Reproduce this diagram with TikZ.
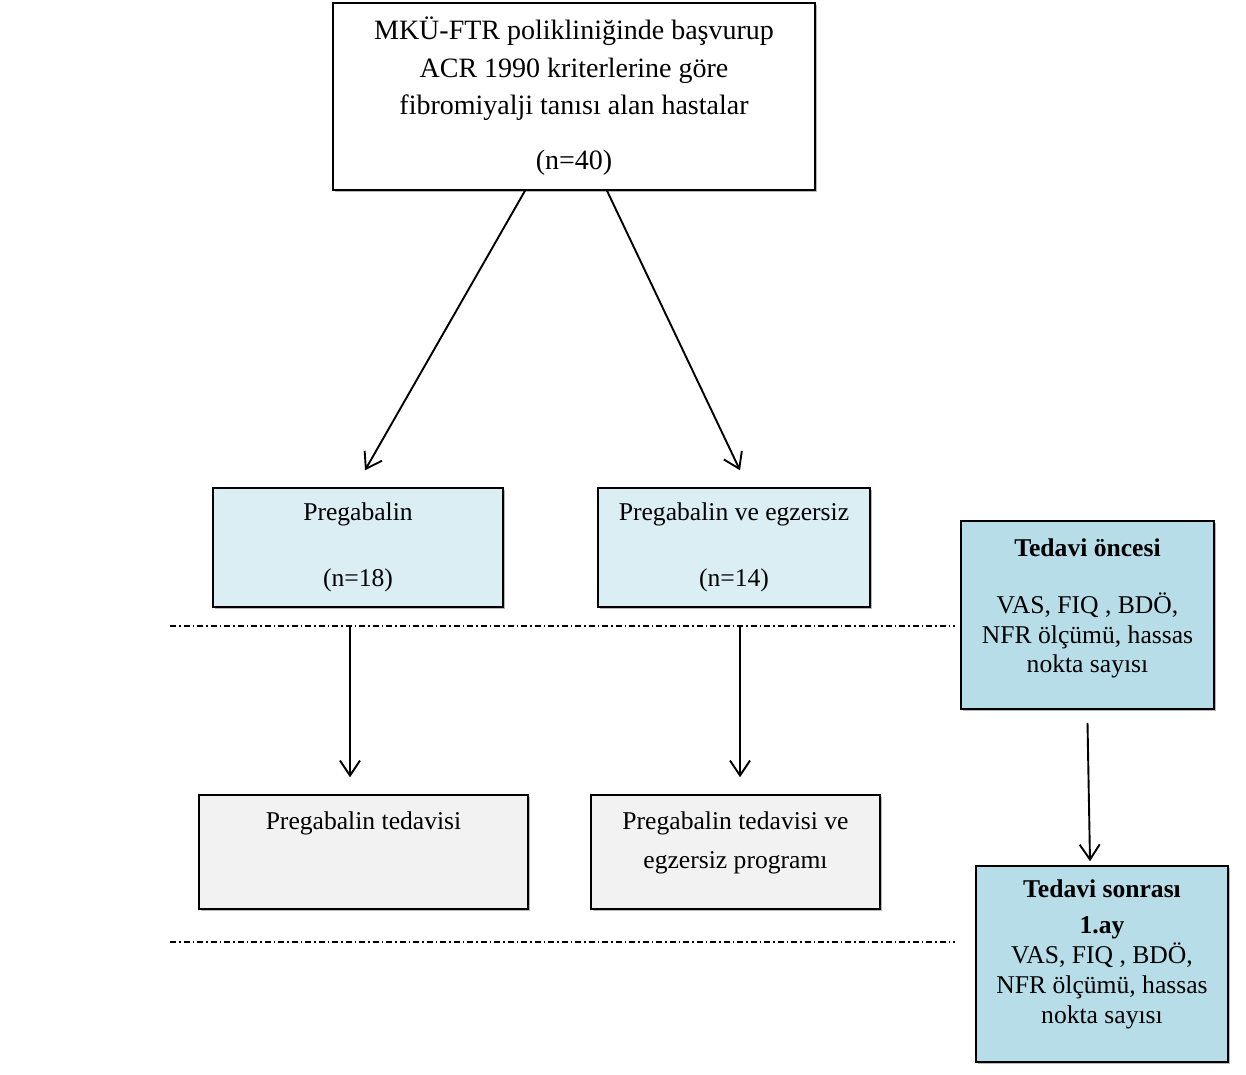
\documentclass[tikz,border=0pt]{standalone}
\usepackage{fontspec}
\setmainfont{Liberation Serif}
\usetikzlibrary{positioning,arrows.meta,shadows}

\definecolor{paleblue}{HTML}{DAEEF3}
\definecolor{midblue}{HTML}{B6DDE8}
\definecolor{palegrey}{HTML}{F2F2F2}

\tikzset{
  box/.style={draw, line width=1.5pt, inner sep=0pt,
    drop shadow={shadow xshift=1.5pt, shadow yshift=-1.5pt, fill=gray!70, opacity=0.8}},
  txt/.style={align=center, inner sep=0pt},
  arr/.style={line width=1.9pt, -{Straight Barb[length=15pt,width=20pt,line width=1.9pt]}},
  sep/.style={line width=1.6pt, dash pattern=on 6pt off 3pt on 1.5pt off 3pt}
}

\begin{document}
\begin{tikzpicture}[x=1pt, y=-1pt, font=\fontsize{25.6}{31}\selectfont]
\useasboundingbox (0,0) rectangle (1246,1074);

% hasta grubu
\node[box, fill=white, minimum width=482, minimum height=187, txt,
      font=\fontsize{28}{37.5}\selectfont] (hasta) at (574,96.5)
  {MKÜ-FTR polikliniğinde başvurup\\ACR 1990 kriterlerine göre\\fibromiyalji tanısı alan hastalar\\[17.5pt](n=40)};

% gruplar
\node[box, fill=paleblue, minimum width=290, minimum height=119, txt] (preg) at (358,547.5)
  {Pregabalin\\[35pt](n=18)};
\node[box, fill=paleblue, minimum width=272, minimum height=119, txt] (pregex) at (734,547.5)
  {Pregabalin ve egzersiz\\[35pt](n=14)};

% tedavi kutulari
\node[box, fill=palegrey, minimum width=329, minimum height=114] (trt1) at (363.5,852) {};
\node[txt] (trt1txt) at ([yshift=29pt]trt1.center) {Pregabalin tedavisi};
\node[box, fill=palegrey, minimum width=289, minimum height=114] (trt2) at (735.5,852) {};
\node[txt, font=\fontsize{25.6}{39}\selectfont] (trt2txt) at ([yshift=9.5pt]trt2.center)
  {Pregabalin tedavisi ve\\egzersiz programı};

% olcumler
\node[box, fill=midblue, minimum width=253, minimum height=188] (pre) at (1087.5,615) {};
\node[txt, font=\fontsize{25.6}{29.5}\selectfont] (pretxt) at ([yshift=6.5pt]pre.center)
  {\textbf{Tedavi öncesi}\\[28pt]VAS, FIQ , BDÖ,\\NFR ölçümü, hassas\\nokta sayısı};
\node[box, fill=midblue, minimum width=252, minimum height=196] (post) at (1102,964) {};
\node[txt, font=\fontsize{25.6}{30}\selectfont] (posttxt) at ([yshift=9.5pt]post.center)
  {\textbf{Tedavi sonrası}\\[6pt]\textbf{1.ay}\\VAS, FIQ , BDÖ,\\NFR ölçümü, hassas\\nokta sayısı};

% ayirici cizgiler
\coordinate (s1a) at (170,626);
\coordinate (s1b) at (955,626);
\coordinate (s2a) at (170,942);
\coordinate (s2b) at (955,942);
\draw[sep] (s1a) -- (s1b);
\draw[sep] (s2a) -- (s2b);

% oklar
\draw[arr] ([xshift=-49pt]hasta.south) -- ([xshift=7pt,yshift=17pt]preg.north);
\draw[arr] ([xshift=33pt]hasta.south) -- ([xshift=6pt,yshift=17pt]pregex.north);
\coordinate (d1) at (350,627);
\coordinate (d2) at (740,627);
\draw[arr] (d1) -- ([xshift=-13.5pt,yshift=17pt]trt1.north);
\draw[arr] (d2) -- ([xshift=4.5pt,yshift=17pt]trt2.north);
\draw[arr] ([yshift=-13pt]pre.south) -- ([xshift=-12pt,yshift=4pt]post.north);
\end{tikzpicture}
\end{document}
